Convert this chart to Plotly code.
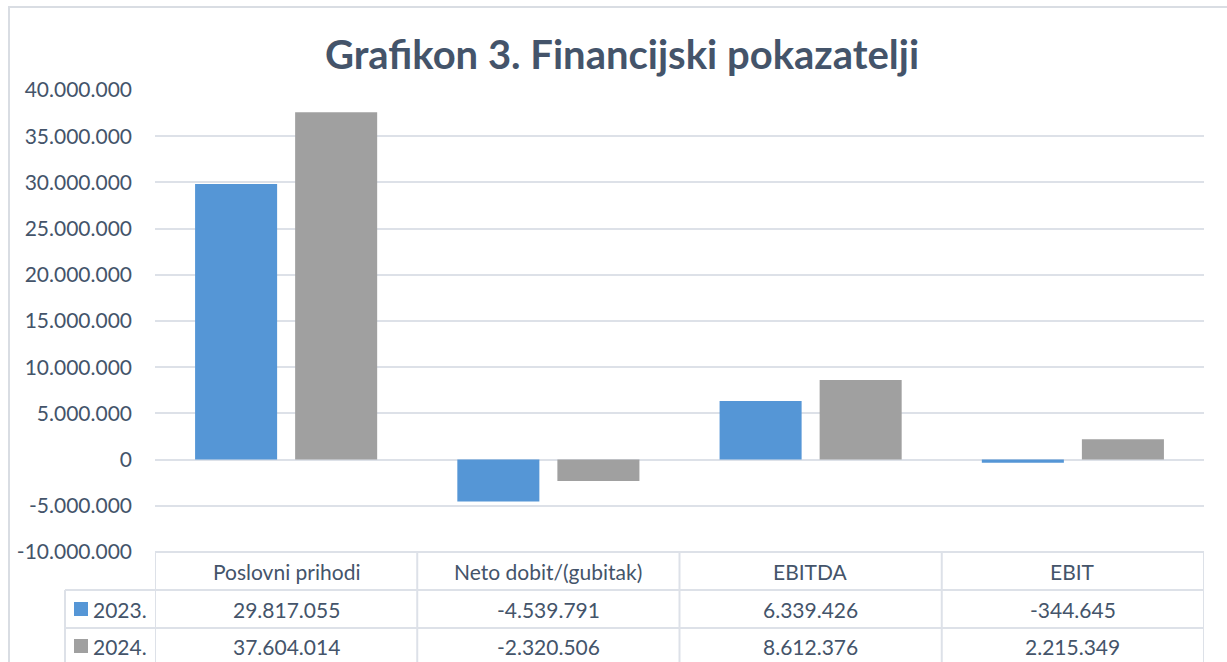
import plotly.graph_objects as go

categories = ["Poslovni prihodi", "Neto dobit/(gubitak)", "EBITDA", "EBIT"]
series_names = ["2023.", "2024."]
values_2023 = [29817055, -4539791, 6339426, -344645]
values_2024 = [37604014, -2320506, 8612376, 2215349]
y_ticks = [40000000, 35000000, 30000000, 25000000, 20000000, 15000000,
           10000000, 5000000, 0, -5000000, -10000000]

TXT = "#44546a"
GRID = "#dde1e8"
C2023 = "#5596d6"
C2024 = "#a0a0a0"
FONT = "Lato"


def fmt(v):
    s = f"{abs(v):,}".replace(",", ".")
    return ("-" if v < 0 else "") + s


W, H = 1227, 662
L, R, T, B = 155, 1204, 90, 552


def px_x(p):
    return (p - L) / (R - L)


def px_y(p):
    return (B - p) / (B - T)


fig = go.Figure()
fig.add_trace(go.Bar(x=categories, y=values_2023, name=series_names[0],
                     marker=dict(color=C2023, line=dict(width=0))))
fig.add_trace(go.Bar(x=categories, y=values_2024, name=series_names[1],
                     marker=dict(color=C2024, line=dict(width=0))))

shapes = []
# outer chart border
shapes.append(dict(type="rect", xref="paper", yref="paper",
                   x0=px_x(9), x1=px_x(1240), y0=px_y(680), y1=px_y(7),
                   line=dict(color="#d9dde3", width=2), layer="below"))
# table lines
line_style = dict(color=GRID, width=2)
shapes.append(dict(type="line", xref="x", yref="paper", x0=-0.5, x1=3.5,
                   y0=px_y(552), y1=px_y(552), line=line_style))
for yy in (590, 628):
    shapes.append(dict(type="line", xref="paper", yref="paper", x0=px_x(65), x1=px_x(R),
                       y0=px_y(yy), y1=px_y(yy), line=line_style))
for i in range(len(categories) + 1):
    shapes.append(dict(type="line", xref="x", yref="paper", x0=i - 0.5, x1=i - 0.5,
                       y0=px_y(552), y1=px_y(680), line=line_style))
shapes.append(dict(type="line", xref="paper", yref="paper", x0=px_x(65), x1=px_x(65),
                   y0=px_y(590), y1=px_y(680), line=line_style))
# legend keys
for row_c, col in ((609, C2023), (646, C2024)):
    shapes.append(dict(type="rect", xref="paper", yref="paper",
                       x0=px_x(74), x1=px_x(88), y0=px_y(row_c + 7), y1=px_y(row_c - 7),
                       line=dict(width=0), fillcolor=col))

annotations = []
tfont = dict(family=FONT, size=21, color=TXT)
for c in categories:
    annotations.append(dict(x=c, xref="x", y=px_y(571), yref="paper", text=c,
                            showarrow=False, font=tfont, xanchor="center", yanchor="middle"))
for vals, row_c in ((values_2023, 609), (values_2024, 646)):
    for c, v in zip(categories, vals):
        annotations.append(dict(x=c, xref="x", y=px_y(row_c), yref="paper", text=fmt(v),
                                showarrow=False, font=tfont, xanchor="center", yanchor="middle"))
for name, row_c in zip(series_names, (609, 646)):
    annotations.append(dict(x=px_x(91), xref="paper", y=px_y(row_c), yref="paper", text=name,
                            showarrow=False, font=tfont, xanchor="left", yanchor="middle"))

fig.update_layout(
    width=W, height=H,
    margin=dict(l=L, r=W - R, t=T, b=H - B),
    paper_bgcolor="white", plot_bgcolor="white",
    title=dict(text="<b>Grafikon 3. Financijski pokazatelji</b>",
               x=622 / W, xref="container", xanchor="center",
               y=1 - 55 / H, yref="container", yanchor="middle",
               font=dict(family=FONT, size=40, color=TXT)),
    barmode="group", bargap=0.237, bargroupgap=0.18,
    showlegend=False,
    shapes=shapes, annotations=annotations,
    font=dict(family=FONT, color=TXT),
)
fig.update_xaxes(showticklabels=False, showgrid=False, zeroline=False, showline=False,
                 range=[-0.5, 3.5])
fig.update_yaxes(range=[-10000000, 40000000], tickvals=y_ticks,
                 ticktext=[fmt(v) for v in y_ticks],
                 showgrid=True, gridcolor=GRID, gridwidth=2,
                 zeroline=True, zerolinecolor=GRID, zerolinewidth=2,
                 showline=False, ticks="", ticklabelstandoff=22,
                 tickfont=dict(family=FONT, size=21, color=TXT))

fig.write_html("out.html", config={"displayModeBar": False},
               post_script="document.body.style.margin='0px';document.body.style.overflow='hidden';")
